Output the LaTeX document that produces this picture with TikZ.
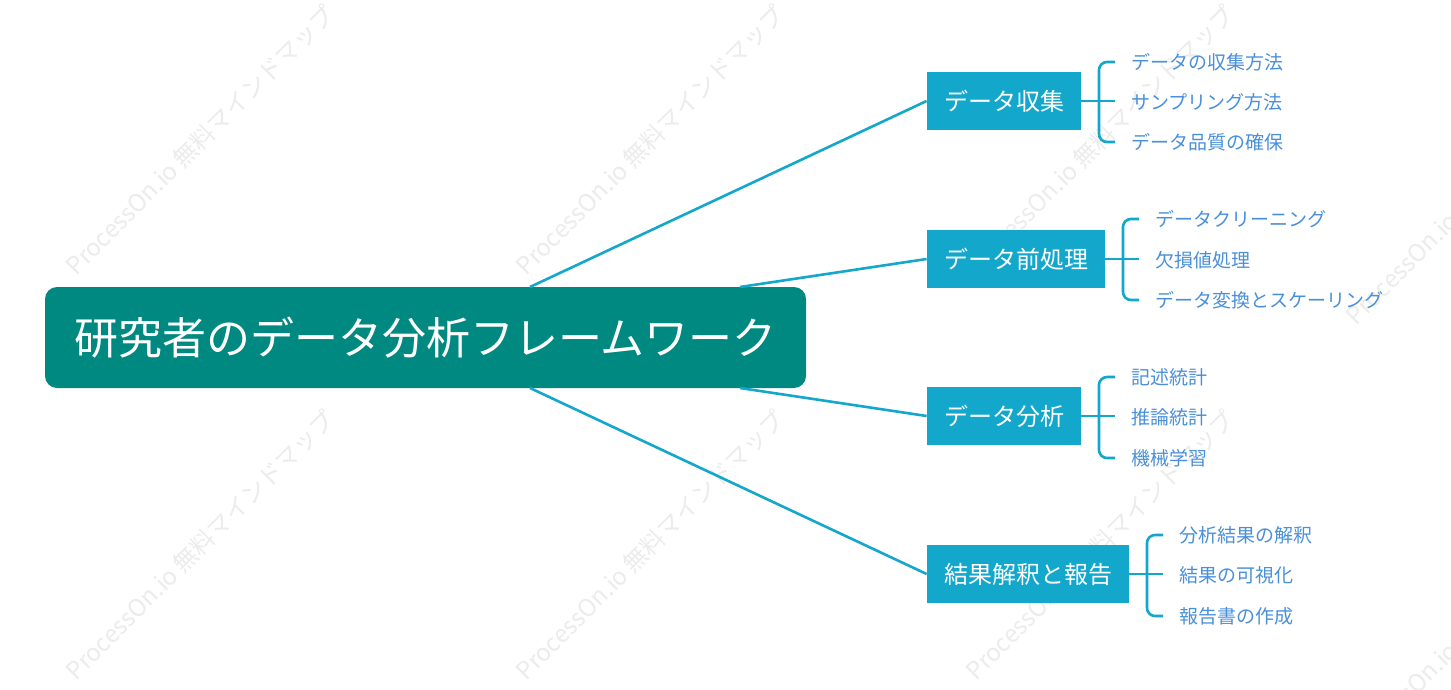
\documentclass[tikz,border=0pt]{standalone}
\usepackage{fontspec}
\setmainfont{Noto Sans CJK JP}
\definecolor{rootc}{RGB}{0,137,128}
\definecolor{brc}{RGB}{20,167,204}
\definecolor{leafc}{RGB}{74,144,217}
\definecolor{wm}{RGB}{236,236,236}
\begin{document}
\begin{tikzpicture}[x=0.5pt,y=-0.5pt,
  rootbox/.style={fill=rootc,rounded corners=6pt,text=white,font=\fontsize{22}{26}\selectfont,inner sep=0},
  brbox/.style={fill=brc,text=white,font=\fontsize{12}{14}\selectfont,inner sep=0},
  leaf/.style={anchor=west,text=leafc,font=\fontsize{9.5}{11}\selectfont,inner sep=0},
  conn/.style={draw=brc,line width=1.3pt},
  brk/.style={draw=brc,line width=1.3pt,rounded corners=4pt},
  wmark/.style={text=wm,font=\fontsize{12}{14}\selectfont,rotate=45}]
\useasboundingbox (0,0) rectangle (1451,690);
\fill[white] (0,0) rectangle (1451,690);
% watermarks
\foreach \x/\y in {200/140,650/140,1100/140,200/545,650/545,1100/545,1480/190,1480/620}
  \node[wmark] at (\x,\y) {ProcessOn.io 無料マインドマップ};
% root
\node[rootbox,minimum width=380.5pt,minimum height=50.5pt] (root) at (425.5,337.5) {研究者のデータ分析フレームワーク};
\node[brbox,minimum width=77pt,minimum height=29pt] (b1) at (1004,101) {データ収集};
\node[brbox,minimum width=89pt,minimum height=29pt] (b2) at (1016,259) {データ前処理};
\node[brbox,minimum width=77pt,minimum height=29pt] (b3) at (1004,416) {データ分析};
\node[brbox,minimum width=101pt,minimum height=29pt] (b4) at (1028,574) {結果解釈と報告};
\coordinate (r1) at (530,287); \coordinate (r2) at (740,287);
\coordinate (r3) at (740,388); \coordinate (r4) at (530,388);
\draw[conn] (r1) -- (b1.west);
\draw[conn] (r2) -- (b2.west);
\draw[conn] (r3) -- (b3.west);
\draw[conn] (r4) -- (b4.west);
% leaves
\node[leaf] (l11) at (1131,62) {データの収集方法};
\node[leaf] (l12) at (1131,102) {サンプリング方法};
\node[leaf] (l13) at (1131,142) {データ品質の確保};
\node[leaf] (l21) at (1155,219) {データクリーニング};
\node[leaf] (l22) at (1155,260) {欠損値処理};
\node[leaf] (l23) at (1155,300) {データ変換とスケーリング};
\node[leaf] (l31) at (1131,377) {記述統計};
\node[leaf] (l32) at (1131,417) {推論統計};
\node[leaf] (l33) at (1131,458) {機械学習};
\node[leaf] (l41) at (1179,535) {分析結果の解釈};
\node[leaf] (l42) at (1179,575) {結果の可視化};
\node[leaf] (l43) at (1179,616) {報告書の作成};
\foreach \b/\a/\m/\z/\xb in {b1/l11/l12/l13/1099,b2/l21/l22/l23/1123,b3/l31/l32/l33/1099,b4/l41/l42/l43/1147}{
  \draw[brk] ([xshift=-8pt]\a.west) -- (\xb,0 |- \a.west) -- (\xb,0 |- \z.west) -- ([xshift=-8pt]\z.west);
  \draw[conn] (\b.east) -- ([xshift=-8pt]\b.east -| \m.west);
}
\end{tikzpicture}
\end{document}
